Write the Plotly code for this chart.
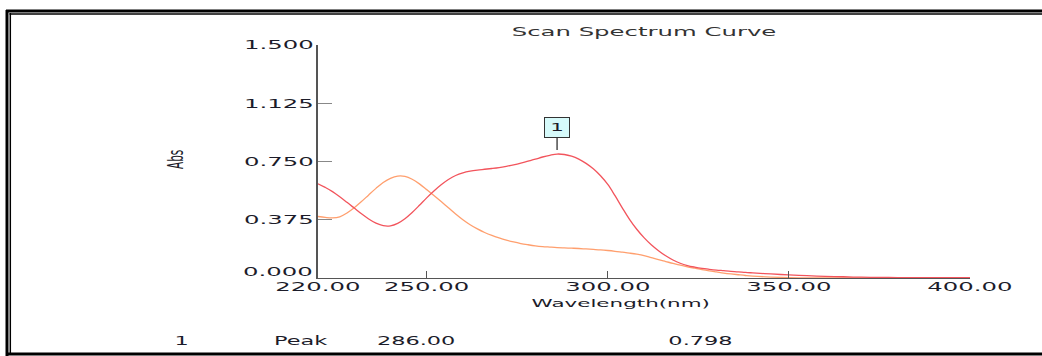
import plotly.graph_objects as go

# Scan data: wavelength (nm) and absorbance of the two recorded spectra
wavelength = [220, 222, 224, 226, 228, 230, 232, 234, 236, 238, 240, 242, 244, 246, 248,
              250, 252, 254, 256, 258, 260, 262, 264, 266, 268, 270, 272, 274, 276, 278,
              280, 282, 284, 286, 288, 290, 292, 294, 296, 298, 300, 302, 304, 306, 308,
              310, 312, 314, 316, 318, 320, 322, 324, 326, 328, 330, 332, 334, 336, 338,
              340, 345, 350, 355, 360, 365, 370, 375, 380, 385, 390, 395, 400]
abs_sample = [0.607, 0.583, 0.556, 0.523, 0.487, 0.450, 0.413, 0.380, 0.353, 0.337, 0.336, 0.352,
              0.382, 0.422, 0.468, 0.516, 0.560, 0.600, 0.634, 0.660, 0.677, 0.688, 0.695, 0.700,
              0.705, 0.711, 0.719, 0.728, 0.739, 0.752, 0.765, 0.779, 0.790, 0.798, 0.795, 0.784,
              0.765, 0.738, 0.703, 0.658, 0.602, 0.530, 0.452, 0.378, 0.314, 0.260, 0.214, 0.176,
              0.143, 0.116, 0.095, 0.080, 0.070, 0.062, 0.056, 0.051, 0.047, 0.043, 0.040, 0.036,
              0.033, 0.026, 0.020, 0.015, 0.011, 0.008, 0.005, 0.004, 0.003, 0.002, 0.002, 0.002,
              0.002]
abs_second = [0.396, 0.390, 0.387, 0.394, 0.418, 0.452, 0.492, 0.535, 0.577, 0.615, 0.642, 0.656,
              0.654, 0.636, 0.606, 0.569, 0.531, 0.492, 0.452, 0.412, 0.375, 0.343, 0.316, 0.293,
              0.274, 0.258, 0.244, 0.232, 0.222, 0.214, 0.207, 0.202, 0.199, 0.196, 0.194, 0.192,
              0.190, 0.187, 0.184, 0.181, 0.177, 0.172, 0.166, 0.160, 0.153, 0.144, 0.131, 0.118,
              0.106, 0.094, 0.083, 0.072, 0.063, 0.054, 0.046, 0.039, 0.032, 0.026, 0.021, 0.016,
              0.012, 0.006, 0.002, 0.000, 0.000, 0.000, 0.000, 0.000, 0.000, 0.000, 0.000, 0.000,
              0.000]

x_ticks = [220, 250, 300, 350, 400]
x_tick_text = ["220.00", "250.00", "300.00", "350.00", "400.00"]
y_ticks = [0.0, 0.375, 0.75, 1.125, 1.5]
y_tick_text = ["0.000", "0.375", "0.750", "1.125", "1.500"]

peak_no = "1"
peak_kind = "Peak"
peak_wl = 286.00
peak_abs = 0.798

W, H = 1042, 356
L, R, T, B = 318, 72, 45, 78
PW, PH = W - L - R, H - T - B
FONT = "DejaVu Sans"
TXT = "#1c1c2a"


def px(xp):
    return (xp - L) / PW


def py(yp):
    return (H - B - yp) / PH


def label(x, y, text, size, **kw):
    return dict(x=px(x), y=py(y), xref="paper", yref="paper", text=text, showarrow=False,
                xanchor="center", yanchor="middle",
                font=dict(family=FONT, size=size, color=TXT), **kw)


fig = go.Figure()
fig.add_trace(go.Scatter(x=wavelength, y=abs_second, mode="lines",
                         line=dict(color="#ff9f6e", width=1.3, shape="spline", smoothing=1),
                         hoverinfo="skip", showlegend=False))
fig.add_trace(go.Scatter(x=wavelength, y=abs_sample, mode="lines",
                         line=dict(color="#f2545c", width=1.3, shape="spline", smoothing=1),
                         hoverinfo="skip", showlegend=False))

# the zero label sits a little above its tick, clear of the wavelength labels
y_tick_shown = [t if v != 0 else "" for v, t in zip(y_ticks, y_tick_text)]

annotations = [
    # peak marker
    dict(x=peak_wl, y=peak_abs, xref="x", yref="y", text=peak_no, showarrow=True,
         arrowhead=0, arrowwidth=1.3, arrowcolor="#333", ax=0, ay=-27, standoff=4,
         bgcolor="#d6fafa", bordercolor="#333", borderwidth=1, borderpad=2,
         width=20, height=15, font=dict(family=FONT, size=11, color=TXT)),
    label(175, 160, "Abs", 10.5, textangle=-90),
    label(621, 303, "Wavelength(nm)", 11),
    label(181, 341, peak_no, 11.5),
    label(301, 341, peak_kind, 11.5),
    label(416, 341, f"{peak_wl:.2f}", 11.5),
    label(700, 341, f"{peak_abs:.3f}", 11.5),
    label(278, 271, y_tick_text[0], 12.5),
]

# page frame: double rule on top and left, single rule at the bottom
frame = [
    (6, 11, W, 11, 3), (9.5, 14, W, 14, 1.5),
    (7, 10, 7, 356, 3), (10.3, 13, 10.3, 353, 1.5),
    (6, 354, W, 354, 3),
]
shapes = [dict(type="line", xref="paper", yref="paper", x0=px(a), y0=py(b), x1=px(c), y1=py(d),
               line=dict(color="black", width=w), layer="above") for a, b, c, d, w in frame]

fig.update_layout(
    width=W, height=H, autosize=False,
    margin=dict(l=L, r=R, t=T, b=B, pad=0),
    paper_bgcolor="white", plot_bgcolor="white",
    font=dict(family=FONT, color=TXT),
    title=dict(text="Scan Spectrum Curve", x=px(644), xref="paper", xanchor="center",
               y=1 - 32 / H, yref="container", yanchor="middle",
               font=dict(family=FONT, size=12.5, color="#333")),
    xaxis=dict(range=[220, 400], tickvals=x_ticks, ticktext=x_tick_text,
               showgrid=False, zeroline=False, showline=True, linecolor="#555", linewidth=1,
               ticks="inside", ticklen=7, tickcolor="#555", tickwidth=1,
               ticklabelstandoff=-3,
               tickfont=dict(family=FONT, size=12.5, color=TXT)),
    yaxis=dict(range=[0, 1.5], tickvals=y_ticks, ticktext=y_tick_shown,
               showgrid=False, zeroline=False, showline=True, linecolor="#555", linewidth=1.5,
               ticks="inside", ticklen=14, tickcolor="#888", tickwidth=1.2,
               tickfont=dict(family=FONT, size=12.5, color=TXT)),
    annotations=annotations, shapes=shapes, showlegend=False,
)

# widen the labels about their anchor point (the typeface used here is a wide one)
widen_js = """
(function(){
  var gd = document.getElementById('{plot_id}');
  var k = 1.95;
  function apply(t, nt){
    t.setAttribute('transform', nt);
    t.setAttribute('data-wt', nt);
  }
  function widen(){
    var nodes = gd.querySelectorAll('.xtick text, .ytick text, .gtitle, .annotation');
    nodes.forEach(function(n){
      var t = n, vertical = false;
      if (n.classList.contains('annotation')) {
        vertical = n.getAttribute('data-index') === '1';
        t = n.querySelector('text.annotation-text');
        if (!t) return;
      }
      var cur = t.getAttribute('transform') || '';
      if (cur !== '' && t.getAttribute('data-wt') === cur) return;
      if (vertical) {
        var fs = parseFloat(window.getComputedStyle(t).fontSize) || 10;
        var cy = (parseFloat(t.getAttribute('y')) || 0) - 0.36 * fs;
        apply(t, cur + ' translate(0,' + cy + ') scale(1,' + k + ') translate(0,' + (-cy) + ')');
      } else {
        var x = parseFloat(t.getAttribute('x')) || 0;
        apply(t, cur + ' translate(' + x + ',0) scale(' + k + ',1) translate(' + (-x) + ',0)');
      }
    });
  }
  widen();
  gd.on('plotly_afterplot', widen);
})();
"""

fig.write_html("out.html", post_script=widen_js, config={"responsive": False, "displayModeBar": False})
